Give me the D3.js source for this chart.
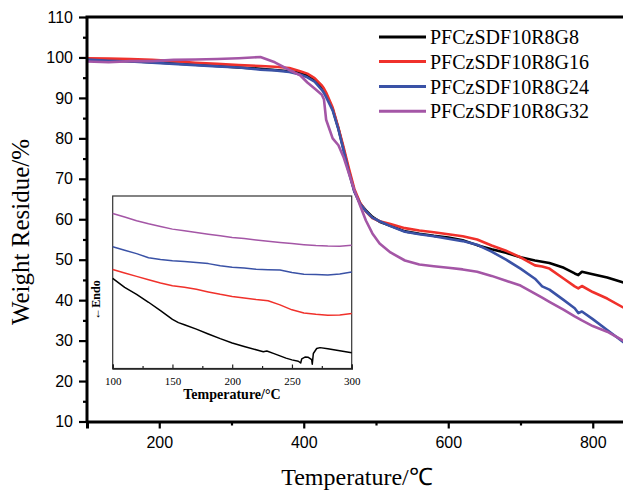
<!DOCTYPE html>
<html><head><meta charset="utf-8">
<script src="https://cdn.jsdelivr.net/npm/d3@7/dist/d3.min.js"></script>
<style>body{margin:0;background:#fff}svg{display:block}</style>
</head><body>
<svg id="c" width="623" height="490"></svg>
<script>
// ---------- DATA ----------
const seriesNames = ["PFCzSDF10R8G8", "PFCzSDF10R8G16", "PFCzSDF10R8G24", "PFCzSDF10R8G32"];
const seriesColors = ["#000000", "#f0312b", "#3a52a6", "#a456a6"];

// TGA (main chart)
const tgaTemp = [100,130,160,190,220,250,280,310,340,360,380,395,405,415,425,428,431,440,448,455,462,470,478,486,495,505,520,540,560,580,600,620,640,660,680,700,720,730,740,760,775,780,785,800,820,845];
const tgaG8  = [99.6,99.3,99.1,98.8,98.5,98.2,97.9,97.5,97.2,96.9,96.6,96.2,95.6,94.5,92.6,91.8,90.9,87.2,82.4,77.4,72.3,67.0,63.9,62.2,60.6,59.4,58.4,57.0,56.4,55.9,55.5,54.8,53.6,52.6,51.7,50.6,49.8,49.5,49.2,48.0,46.6,46.2,47.0,46.4,45.6,44.2];
const tgaG16 = [99.8,99.7,99.6,99.4,99.1,98.7,98.4,98.1,97.9,97.7,97.4,96.6,96.0,94.9,93.1,92.3,91.3,87.6,82.6,77.9,72.9,67.5,64.1,61.9,60.3,59.5,58.8,57.8,57.2,56.8,56.3,55.8,55.0,53.5,52.2,50.6,48.6,48.3,47.8,45.3,43.4,42.9,43.5,42.0,40.4,37.9];
const tgaG24 = [99.5,99.2,99.0,98.7,98.4,98.1,97.8,97.5,97.0,96.8,96.4,95.8,95.1,94.0,92.0,91.2,90.2,86.9,82.2,77.1,71.9,66.8,63.8,62.0,60.4,59.5,58.3,56.9,56.3,55.8,55.2,54.6,53.7,52.0,50.0,47.8,45.3,43.4,42.6,40.0,38.0,36.8,37.2,35.3,32.6,29.3];
const tgaG32 = [99.0,98.8,99.1,99.1,99.4,99.5,99.6,99.8,100.1,98.8,96.9,95.6,93.8,92.3,90.8,89.6,84.6,80.0,78.3,75.4,71.6,67.2,63.4,59.7,56.5,54.0,51.8,49.8,48.8,48.4,48.0,47.6,47.0,46.0,44.8,43.6,41.6,40.6,39.6,37.6,36.0,35.5,35.0,33.6,32.2,29.7];

// DSC (inset), arbitrary heat-flow units
const dscTemp = [100,110,120,130,140,150,160,170,180,190,200,210,220,230,240,250,260,270,280,290,300];
const dscG16 = [57.4,55.4,53.4,51.5,49.6,48.0,47.1,45.9,44.4,43.0,41.8,40.9,40.0,39.3,36.9,34.0,32.2,31.4,30.9,31.0,31.9];
const dscG24 = [70.6,68.6,66.6,64.2,63.2,62.5,62.0,61.4,60.8,59.6,58.7,58.2,57.5,57.3,57.1,55.6,54.7,54.5,54.2,54.8,55.9];
const dscG32 = [89.9,87.8,85.7,83.9,82.3,80.8,79.8,78.8,77.8,76.9,76.0,75.3,74.5,73.8,73.1,72.4,71.8,71.3,71.0,70.9,71.4];
const dscTempG8 = [100,110,120,130,140,150,155,160,170,180,190,200,210,220,226,229,235,240,245,250,255.3,257.3,258.2,260.9,263.7,266.5,267,267.9,270.7,273.5,280,290,300];
const dscG8 = [52.2,47.0,43.0,38.4,33.5,28.5,26.6,25.4,22.8,20.0,17.3,14.8,12.8,10.9,9.7,10.1,8.6,7.3,6.0,5.0,4.2,3.2,5.6,6.6,6.5,5.2,2.5,8.7,11.6,12.1,11.5,10.3,9.1];

// ticks
const xTicksMajor = [200,400,600,800];
const xTicksMinor = [100,300,500,700];
const yTicksMajor = [10,20,30,40,50,60,70,80,90,100,110];
const yTicksMinor = [15,25,35,45,55,65,75,85,95,105];
const insetTicksMajor = [100,150,200,250,300];
const insetTicksMinor = [125,175,225,275];

// ---------- CHART ----------
const svg = d3.select("#c");
const plot = {left: 87, top: 17, bottom: 421.5};
const x = d3.scaleLinear().domain([100, 850]).range([plot.left, plot.left + 750 * 0.7225]);
const y = d3.scaleLinear().domain([10, 110]).range([plot.bottom, plot.top]);

svg.append("defs").append("clipPath").attr("id","clipMain")
  .append("rect").attr("x", plot.left).attr("y", plot.top).attr("width", 623 - plot.left).attr("height", plot.bottom - plot.top);

const tgaSeries = [tgaG8, tgaG16, tgaG24, tgaG32];
const line = d3.line().x((d,i)=>x(tgaTemp[i])).y(d=>y(d)).curve(d3.curveLinear);
const gLines = svg.append("g").attr("clip-path","url(#clipMain)");
tgaSeries.forEach((s,k)=>{
  gLines.append("path").datum(s).attr("d", line)
    .attr("fill","none").attr("stroke", seriesColors[k]).attr("stroke-width", 2.6)
    .attr("stroke-linejoin","round");
});

// axes
const tickFont = "'Liberation Sans', Arial, sans-serif";
const yAx = svg.append("g").attr("transform",`translate(${plot.left},0)`)
  .call(d3.axisLeft(y).tickValues(yTicksMajor).tickSize(8).tickPadding(6).tickFormat(d3.format("d")));
const yAxMin = svg.append("g").attr("transform",`translate(${plot.left},0)`)
  .call(d3.axisLeft(y).tickValues(yTicksMinor).tickSize(4).tickFormat(""));
const xAx = svg.append("g").attr("transform",`translate(0,${plot.bottom})`)
  .call(d3.axisBottom(x).tickValues(xTicksMajor).tickSize(7).tickPadding(8).tickFormat(d3.format("d")));
const xAxMin = svg.append("g").attr("transform",`translate(0,${plot.bottom})`)
  .call(d3.axisBottom(x).tickValues(xTicksMinor).tickSize(4).tickFormat(""));
[yAx, yAxMin, xAx, xAxMin].forEach(g=>{
  g.select(".domain").attr("stroke","#000").attr("stroke-width",3);
  g.selectAll(".tick line").attr("stroke","#000").attr("stroke-width",2.2);
  g.selectAll("text").attr("font-family", tickFont).attr("font-size", 16).attr("fill","#000");
});
yAx.select(".domain").attr("d", `M0,${plot.top}V${plot.bottom}`);
yAxMin.select(".domain").remove();
xAxMin.select(".domain").remove();
// top border
svg.append("line").attr("x1", plot.left-1.5).attr("x2", 623).attr("y1", plot.top).attr("y2", plot.top)
  .attr("stroke","#000").attr("stroke-width",3);

// axis titles
const serif = "'Liberation Serif', 'Times New Roman', serif";
svg.append("text").attr("transform","translate(29,232) rotate(-90)").attr("text-anchor","middle")
  .attr("font-family", serif).attr("font-size", 25).text("Weight Residue/%");
svg.append("text").attr("x", 357).attr("y", 485).attr("text-anchor","middle")
  .attr("font-family", serif).attr("font-size", 24).text("Temperature/℃");

// legend
const legY = [37, 61.5, 86.5, 111.3];
seriesNames.forEach((n,k)=>{
  svg.append("line").attr("x1",379).attr("x2",426).attr("y1",legY[k]).attr("y2",legY[k])
    .attr("stroke", seriesColors[k]).attr("stroke-width",3);
  svg.append("text").attr("x",430).attr("y",legY[k]+7).attr("font-family", serif).attr("font-size",20).text(n);
});

// ---------- INSET ----------
const ins = {left:112.7, right:351.7, top:196, bottom:368.5};
const xi = d3.scaleLinear().domain([100,300]).range([ins.left, ins.right]);
const yi = d3.scaleLinear().domain([0,100]).range([ins.bottom, ins.top]);
svg.append("rect").attr("x",ins.left).attr("y",ins.top).attr("width",ins.right-ins.left).attr("height",ins.bottom-ins.top)
  .attr("fill","#fff").attr("stroke","#333").attr("stroke-width",1.2);
const lineI = d3.line().x(d=>xi(d[0])).y(d=>yi(d[1]));
const dscSets = [
  [dscTempG8, dscG8],
  [dscTemp, dscG16],
  [dscTemp, dscG24],
  [dscTemp, dscG32]
];
dscSets.forEach(([t,v],k)=>{
  svg.append("path").datum(t.map((d,i)=>[d, v[i]])).attr("d", lineI)
    .attr("fill","none").attr("stroke", seriesColors[k]).attr("stroke-width",1.5).attr("stroke-linejoin","round");
});
const xiAx = svg.append("g").attr("transform",`translate(0,${ins.bottom})`)
  .call(d3.axisBottom(xi).tickValues(insetTicksMajor).tickSize(-4).tickPadding(9).tickFormat(d3.format("d")));
const xiAxMin = svg.append("g").attr("transform",`translate(0,${ins.bottom})`)
  .call(d3.axisBottom(xi).tickValues(insetTicksMinor).tickSize(-2.5).tickFormat(""));
[xiAx, xiAxMin].forEach(g=>{
  g.select(".domain").attr("stroke","#222").attr("stroke-width",1.6);
  g.selectAll(".tick line").attr("stroke","#222").attr("stroke-width",1.2);
  g.selectAll("text").attr("font-family", serif).attr("font-size", 11).attr("fill","#000");
});
xiAxMin.select(".domain").remove();
svg.append("text").attr("x", 232).attr("y", 399).attr("text-anchor","middle")
  .attr("font-family", serif).attr("font-size", 14).attr("font-weight","bold").text("Temperature/°C");
svg.append("text").attr("transform","translate(100,300) rotate(-90)").attr("text-anchor","middle")
  .attr("font-family", serif).attr("font-size", 12).attr("font-weight","bold").text("←Endo");
</script>
</body></html>
